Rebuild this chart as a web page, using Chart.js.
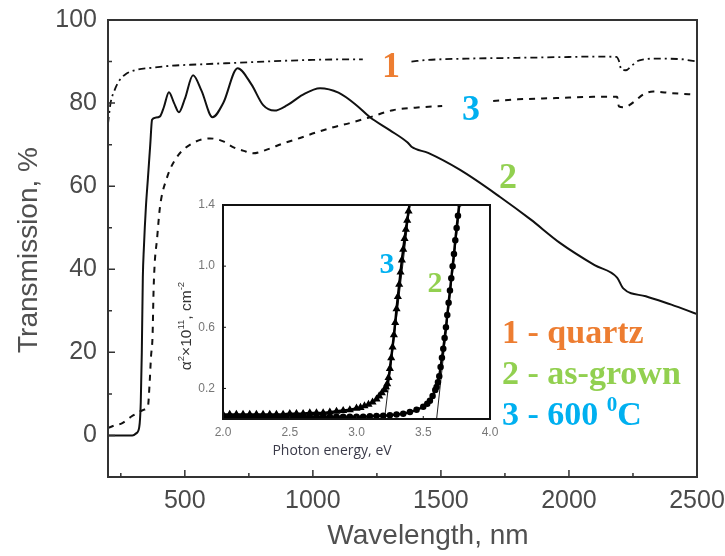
<!DOCTYPE html>
<html>
<head>
<meta charset="utf-8">
<script src="https://cdn.jsdelivr.net/npm/chart.js@4.4.1/dist/chart.umd.min.js"></script>
<style>
  body { margin: 0; background: #fff; }
  #wrap { position: relative; width: 725px; height: 556px; }
  #mainChart { position: absolute; left: 0; top: 0; }
  #insetChart { position: absolute; left: 170px; top: 195px; }
</style>
</head>
<body>
<div id="wrap">
  <canvas id="mainChart" width="725" height="556"></canvas>
  <canvas id="insetChart" width="335" height="265"></canvas>
</div>
<script>
// main plot: transmission spectra
const xTicks = [500, 1000, 1500, 2000, 2500];
const xMinorTicks = [250, 750, 1250, 1750, 2250];
const yTicks = [0, 20, 40, 60, 80, 100];
const yMinorTicks = [-10, 10, 30, 50, 70, 90];

// 1 - quartz (null = gap behind the "1" label)
const wavelengthQuartz = [200, 210, 225, 245, 270, 310, 370, 450, 550, 700, 850, 1000, 1100, 1195, 1300, 1385, 1450, 1600, 1800, 2000, 2100, 2185, 2195, 2205, 2222, 2245, 2275, 2340, 2430, 2500];
const quartz = [75, 80, 83, 85.5, 87, 88, 88.5, 89, 89.3, 89.7, 90.1, 90.4, 90.5, 90.5, null, 90, 90.4, 90.7, 90.9, 91.1, 91.2, 91.1, 90.2, 88, 87.9, 89, 90.3, 90.7, 90.6, 90];

// 2 - as-grown
const wavelengthGrown = [200, 295, 310, 322, 328, 332, 336, 340, 348, 356, 365, 372, 385, 403, 418, 438, 458, 477, 500, 532, 565, 608, 650, 706, 760, 806, 850, 900, 960, 1028, 1100, 1170, 1223, 1300, 1370, 1385, 1450, 1575, 1731, 1850, 1966, 2100, 2188, 2212, 2300, 2400, 2500];
const asGrown = [0, 0, 0.5, 2, 8, 20, 38, 45, 55, 62, 70, 76, 76.5, 76.8, 79, 82.6, 80, 77.8, 81, 86.7, 83, 76.6, 80, 88.4, 84.5, 79.5, 78.2, 79.5, 82, 83.6, 82.5, 79.5, 76.6, 73.5, 70.5, 69.5, 68, 63.9, 57.4, 52, 46.3, 41, 38, 35.4, 33.5, 31.5, 29.2];

// 3 - 600 C (null = gap behind the "3" label)
const wavelength600 = [200, 230, 254, 290, 313, 340, 356, 362, 368, 374, 378, 383, 391, 403, 430, 469, 532, 598, 650, 688, 730, 766, 820, 884, 950, 1016, 1080, 1145, 1223, 1313, 1400, 1505, 1600, 1704, 1800, 1950, 2095, 2188, 2195, 2210, 2227, 2260, 2290, 2329, 2400, 2500];
const annealed600 = [1.8, 2.5, 2.9, 4.5, 5.3, 6.2, 7, 12, 19, 24, 35, 42, 47, 55, 62, 67, 70.4, 71.5, 70.8, 69.4, 68.5, 67.9, 68.8, 70.3, 71.6, 73, 74.2, 75.2, 76.6, 78.3, 78.9, 79.3, null, 80.5, 80.9, 81.2, 81.5, 81.5, 79.2, 79, 79.2, 80.6, 82.1, 82.8, 82.4, 82];

// inset: alpha^2 vs photon energy
const insetXTicks = [2.0, 2.5, 3.0, 3.5, 4.0];
const insetYTicks = [0.2, 0.6, 1.0, 1.4];

const energy600 = [2.00, 2.05, 2.10, 2.15, 2.20, 2.25, 2.30, 2.35, 2.40, 2.45, 2.50, 2.55, 2.60, 2.65, 2.70, 2.75, 2.80, 2.85, 2.90, 2.95, 3.00, 3.03, 3.06, 3.09, 3.12, 3.15, 3.17, 3.19, 3.21, 3.22, 3.23, 3.24, 3.25, 3.26, 3.27, 3.28, 3.29, 3.30, 3.31, 3.32, 3.33, 3.34, 3.35, 3.36, 3.37, 3.38, 3.39, 3.40];
const alpha600 = [0.03, 0.03, 0.03, 0.03, 0.03, 0.03, 0.03, 0.03, 0.03, 0.03, 0.035, 0.035, 0.035, 0.04, 0.04, 0.04, 0.045, 0.05, 0.055, 0.06, 0.07, 0.075, 0.085, 0.095, 0.11, 0.13, 0.15, 0.17, 0.19, 0.21, 0.23, 0.27, 0.33, 0.40, 0.47, 0.55, 0.63, 0.72, 0.80, 0.88, 0.96, 1.04, 1.11, 1.18, 1.24, 1.30, 1.36, 1.42];

const energyGrown = [2.00, 2.05, 2.10, 2.15, 2.20, 2.25, 2.30, 2.35, 2.40, 2.45, 2.50, 2.55, 2.60, 2.65, 2.70, 2.75, 2.80, 2.85, 2.90, 2.95, 3.00, 3.05, 3.10, 3.15, 3.20, 3.25, 3.30, 3.35, 3.40, 3.45, 3.50, 3.53, 3.55, 3.57, 3.59, 3.60, 3.61, 3.62, 3.63, 3.64, 3.65, 3.66, 3.67, 3.68, 3.69, 3.70, 3.71, 3.72, 3.73, 3.74, 3.75, 3.76, 3.77];
const alphaGrown = [0.015, 0.015, 0.015, 0.015, 0.015, 0.015, 0.015, 0.015, 0.015, 0.015, 0.015, 0.015, 0.015, 0.015, 0.015, 0.015, 0.015, 0.015, 0.015, 0.015, 0.015, 0.015, 0.018, 0.02, 0.022, 0.025, 0.03, 0.035, 0.045, 0.06, 0.08, 0.10, 0.12, 0.15, 0.19, 0.21, 0.24, 0.28, 0.34, 0.40, 0.46, 0.53, 0.60, 0.68, 0.76, 0.84, 0.92, 1.00, 1.08, 1.17, 1.25, 1.33, 1.41];

// band-gap extrapolation lines
const tangent600E = [3.21, 3.40];
const tangent600A = [0, 1.4];
const tangentGrownE = [3.60, 3.775];
const tangentGrownA = [0, 1.4];

const ORANGE = '#ED7D31';
const GREEN = '#92D050';
const BLUE = '#00B0F0';
const AXIS_TEXT = '#4a4a4a';
const SANS = "'Liberation Sans', Arial, sans-serif";
const SERIF = "'Liberation Serif', 'Times New Roman', serif";

const toPoints = (xs, ys) => xs.map((x, i) => ({ x: x, y: ys[i] }));

// text with optional superscript parts
function drawRich(ctx, parts, x, y, opts) {
    const size = opts.size;
    const font = s => (opts.weight || 'normal') + ' ' + s + 'px ' + opts.family;
    ctx.save();
    ctx.translate(x, y);
    if (opts.angle) ctx.rotate(opts.angle);
    ctx.fillStyle = opts.color;
    ctx.textAlign = 'left';
    ctx.textBaseline = 'alphabetic';
    let total = 0;
    parts.forEach(p => {
        ctx.font = font(p.sup ? size * 0.62 : size);
        total += ctx.measureText(p.t).width;
    });
    let cx = opts.align === 'left' ? 0 : -total / 2;
    parts.forEach(p => {
        ctx.font = font(p.sup ? size * 0.62 : size);
        ctx.fillText(p.t, cx, p.sup ? -size * 0.42 : 0);
        cx += ctx.measureText(p.t).width;
    });
    ctx.restore();
}

function frameAndTicks(opts) {
    return {
        id: 'frameAndTicks',
        afterDraw(chart) {
            const ctx = chart.ctx;
            const a = chart.chartArea;
            const xs = chart.scales.x;
            const ys = chart.scales.y;
            ctx.save();
            ctx.strokeStyle = opts.color;
            ctx.lineWidth = opts.width;
            ctx.strokeRect(a.left, a.top, a.right - a.left, a.bottom - a.top);
            ctx.lineWidth = opts.tickWidth;
            ctx.beginPath();
            const tickX = (list, len) => list.forEach(v => {
                const px = xs.getPixelForValue(v);
                ctx.moveTo(px, a.bottom);
                ctx.lineTo(px, a.bottom - len);
            });
            const tickY = (list, len) => list.forEach(v => {
                const py = ys.getPixelForValue(v);
                ctx.moveTo(a.left, py);
                ctx.lineTo(a.left + len, py);
            });
            tickX(opts.xMajor, opts.major);
            tickX(opts.xMinor, opts.minor);
            tickY(opts.yMajor, opts.major);
            tickY(opts.yMinor, opts.minor);
            ctx.stroke();
            ctx.restore();
        }
    };
}

const mainText = {
    id: 'mainText',
    afterDraw(chart) {
        const ctx = chart.ctx;
        drawRich(ctx, [{ t: 'Transmission, %' }], 37, 250, { size: 28, family: SANS, color: '#505050', angle: -Math.PI / 2 });
        drawRich(ctx, [{ t: 'Wavelength, nm' }], 428, 544, { size: 28, family: SANS, color: '#505050' });

        const big = { size: 36, family: SERIF, weight: 'bold' };
        drawRich(ctx, [{ t: '1' }], 391, 77, Object.assign({ color: ORANGE }, big));
        drawRich(ctx, [{ t: '3' }], 471, 120, Object.assign({ color: BLUE }, big));
        drawRich(ctx, [{ t: '2' }], 508, 188, Object.assign({ color: GREEN }, big));
        drawRich(ctx, [{ t: '3' }], 387, 273, { size: 30, family: SERIF, weight: 'bold', color: BLUE });
        drawRich(ctx, [{ t: '2' }], 435, 292, { size: 30, family: SERIF, weight: 'bold', color: GREEN });

        const leg = { size: 34, family: SERIF, weight: 'bold', align: 'left' };
        drawRich(ctx, [{ t: '1 - quartz' }], 502, 343, Object.assign({ color: ORANGE }, leg));
        drawRich(ctx, [{ t: '2 - as-grown' }], 502, 384, Object.assign({ color: GREEN }, leg));
        drawRich(ctx, [{ t: '3 - 600 ' }, { t: '0', sup: true }, { t: 'C' }], 502, 425, Object.assign({ color: BLUE }, leg));
    }
};

const insetText = {
    id: 'insetText',
    afterDraw(chart) {
        const ctx = chart.ctx;
        drawRich(ctx, [{ t: 'α' }, { t: '2', sup: true }, { t: '×10' }, { t: '11', sup: true }, { t: ', cm' }, { t: '-2', sup: true }],
            21, 131, { size: 15.5, family: SANS, color: '#333', angle: -Math.PI / 2 });
        drawRich(ctx, [{ t: 'Photon energy, eV' }], 162, 260, { size: 14, family: "'Open Sans', sans-serif", color: '#3a3a48' });
    }
};

// keep tick labels from pushing the plot area inwards
const noOverhang = s => { s.paddingLeft = 0; s.paddingRight = 0; s.paddingTop = 0; s.paddingBottom = 0; };

const mainChart = new Chart(document.getElementById('mainChart'), {
    type: 'line',
    data: {
        datasets: [
            {
                label: '1 - quartz',
                data: toPoints(wavelengthQuartz, quartz),
                borderColor: '#111',
                borderWidth: 1.8,
                borderDash: [7, 4, 2, 4],
                pointRadius: 0,
                cubicInterpolationMode: 'monotone',
            },
            {
                label: '2 - as-grown',
                data: toPoints(wavelengthGrown, asGrown),
                borderColor: '#111',
                borderWidth: 2,
                pointRadius: 0,
                cubicInterpolationMode: 'monotone',
            },
            {
                label: '3 - 600 C',
                data: toPoints(wavelength600, annealed600),
                borderColor: '#111',
                borderWidth: 2,
                borderDash: [6, 6],
                pointRadius: 0,
                cubicInterpolationMode: 'monotone',
            },
        ],
    },
    options: {
        responsive: false,
        animation: false,
        devicePixelRatio: 1,
        spanGaps: false,
        layout: { padding: { top: 20, right: 28, left: 0, bottom: 0 } },
        plugins: { legend: { display: false }, tooltip: { enabled: false } },
        scales: {
            x: {
                type: 'linear',
                min: 200,
                max: 2500,
                afterBuildTicks: s => { s.ticks = xTicks.map(v => ({ value: v })); },
                afterFit: s => { s.height = 79; noOverhang(s); },
                grid: { display: false, drawTicks: false },
                border: { display: false },
                ticks: { padding: 9, color: AXIS_TEXT, font: { family: SANS, size: 25 }, maxRotation: 0, callback: v => String(v) },
            },
            y: {
                min: -10,
                max: 100,
                afterBuildTicks: s => { s.ticks = yTicks.map(v => ({ value: v })); },
                afterFit: s => { s.width = 108; noOverhang(s); },
                grid: { display: false, drawTicks: false },
                border: { display: false },
                ticks: { padding: 11, color: AXIS_TEXT, font: { family: SANS, size: 25 }, callback: v => String(v) },
            },
        },
    },
    plugins: [
        frameAndTicks({ color: '#333', width: 2, tickWidth: 1.5, major: 7, minor: 4, xMajor: xTicks, xMinor: xMinorTicks, yMajor: yTicks, yMinor: yMinorTicks }),
        mainText,
    ],
});

const insetChart = new Chart(document.getElementById('insetChart'), {
    type: 'line',
    data: {
        datasets: [
            {
                label: '3',
                data: toPoints(energy600, alpha600),
                borderColor: '#000',
                backgroundColor: '#000',
                borderWidth: 2.5,
                pointRadius: 2.2,
                pointStyle: 'triangle',
                cubicInterpolationMode: 'monotone',
            },
            {
                label: '2',
                data: toPoints(energyGrown, alphaGrown),
                borderColor: '#000',
                backgroundColor: '#000',
                borderWidth: 2.5,
                pointRadius: 2,
                cubicInterpolationMode: 'monotone',
            },
            {
                label: 'fit 3',
                data: toPoints(tangent600E, tangent600A),
                borderColor: '#222',
                borderWidth: 1,
                pointRadius: 0,
            },
            {
                label: 'fit 2',
                data: toPoints(tangentGrownE, tangentGrownA),
                borderColor: '#222',
                borderWidth: 1,
                pointRadius: 0,
            },
        ],
    },
    options: {
        responsive: false,
        animation: false,
        devicePixelRatio: 1,
        layout: { padding: { top: 10, right: 15, left: 0, bottom: 0 } },
        plugins: { legend: { display: false }, tooltip: { enabled: false } },
        scales: {
            x: {
                type: 'linear',
                min: 2,
                max: 4,
                afterBuildTicks: s => { s.ticks = insetXTicks.map(v => ({ value: v })); },
                afterFit: s => { s.height = 41; noOverhang(s); },
                grid: { display: false, drawTicks: false },
                border: { display: false },
                ticks: { padding: 6, color: '#777', font: { family: SANS, size: 12 }, maxRotation: 0, callback: v => v.toFixed(1) },
            },
            y: {
                min: 0,
                max: 1.4,
                afterBuildTicks: s => { s.ticks = insetYTicks.map(v => ({ value: v })); },
                afterFit: s => { s.width = 53; noOverhang(s); },
                grid: { display: false, drawTicks: false },
                border: { display: false },
                ticks: { padding: 8, color: '#777', font: { family: SANS, size: 12 }, callback: v => v.toFixed(1) },
            },
        },
    },
    plugins: [
        frameAndTicks({ color: '#111', width: 2, tickWidth: 1, major: 3, minor: 0, xMajor: insetXTicks, xMinor: [], yMajor: insetYTicks, yMinor: [] }),
        insetText,
    ],
});
</script>
</body>
</html>
